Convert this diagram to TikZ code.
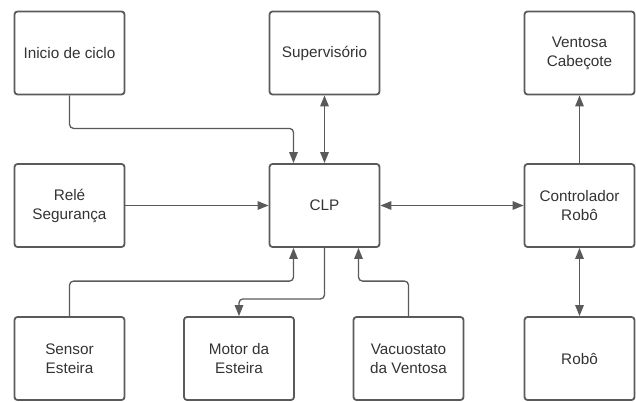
\documentclass[tikz,border=0pt]{standalone}
\usepackage{fontspec}
\setmainfont{Liberation Sans}
\usetikzlibrary{arrows.meta}
\definecolor{linegray}{HTML}{5A5A5A}
\definecolor{textgray}{HTML}{333333}
\tikzset{
  blok/.style={draw=linegray,line width=1.8pt,rounded corners=3pt,
    minimum width=110pt,minimum height=83pt,inner sep=0pt,align=center,
    text=textgray,font=\fontsize{15.3}{19}\selectfont},
  wire/.style={draw=linegray,line width=1.3pt,rounded corners=4pt,
    -{Triangle[length=11pt,width=8.5pt]}},
  twowire/.style={wire,{Triangle[length=11pt,width=8.5pt]}-{Triangle[length=11pt,width=8.5pt]}}
}
\begin{document}
\begin{tikzpicture}[x=1pt,y=1pt]
  \useasboundingbox (0,0) rectangle (636,-401);
  % top row
  \node[blok] (ini) at (69.5,-53) {Inicio de ciclo};
  \node[blok] (sup) at (324.5,-53) {Supervisório};
  \node[blok] (ven) at (579.5,-53) {Ventosa\\Cabeçote};
  % middle row
  \node[blok] (rel) at (69.5,-205.5) {Relé\\Segurança};
  \node[blok] (clp) at (324.5,-205.5) {CLP};
  \node[blok] (ctr) at (579.5,-205.5) {Controlador\\Robô};
  % bottom row
  \node[blok] (sen) at (69.5,-358.5) {Sensor\\Esteira};
  \node[blok] (mot) at (239,-358.5) {Motor da\\Esteira};
  \node[blok] (vac) at (408.5,-358.5) {Vacuostato\\da Ventosa};
  \node[blok] (rob) at (579.5,-358.5) {Robô};

  % connectors
  \draw[wire] (ini.south) -- ++(0,-33) -| ([xshift=-31pt]clp.north);
  \draw[twowire] (sup.south) -- (clp.north);
  \draw[wire] (rel.east) -- (clp.west);
  \draw[twowire] (clp.east) -- (ctr.west);
  \draw[wire] (ctr.north) -- (ven.south);
  \draw[twowire] (ctr.south) -- (rob.north);
  \draw[wire] (sen.north) -- ++(0,35) -| ([xshift=-31pt]clp.south);
  \draw[wire] (clp.south) -- ++(0,-51) -| (mot.north);
  \draw[wire] (vac.north) -- ++(0,35) -| ([xshift=34pt]clp.south);
\end{tikzpicture}
\end{document}
